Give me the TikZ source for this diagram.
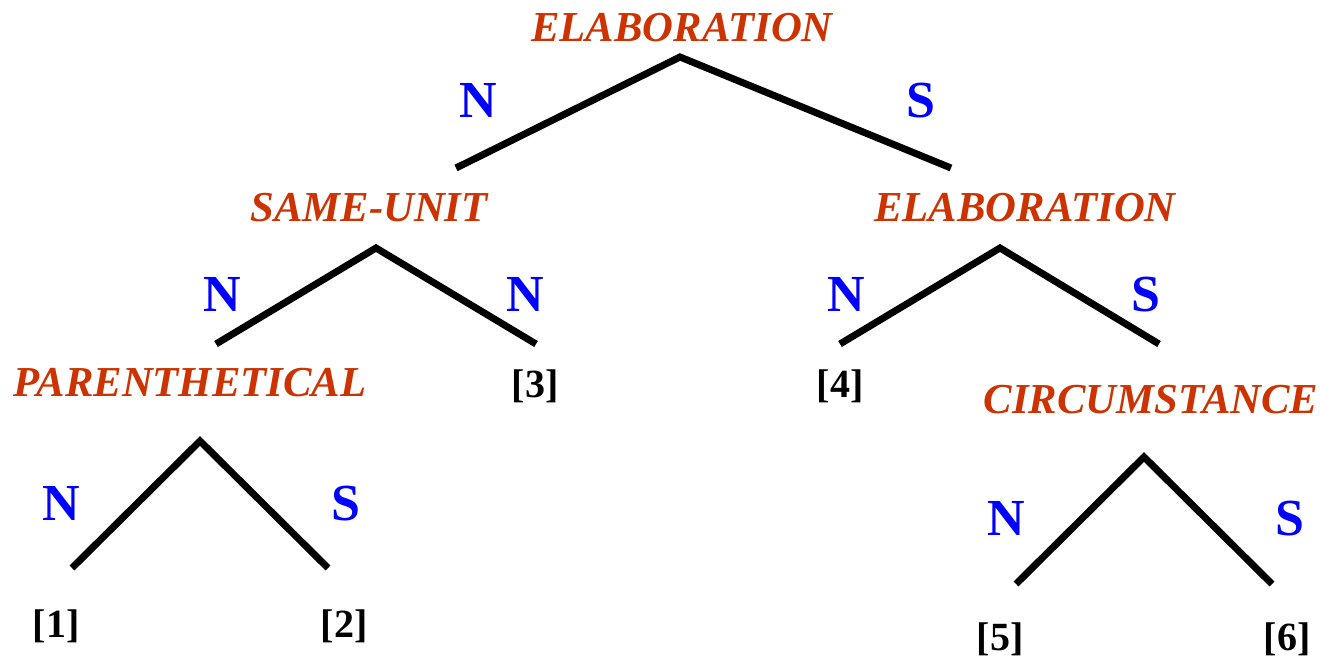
\documentclass[tikz,border=0pt]{standalone}
\usepackage{fontspec}
\setmainfont{Liberation Serif}
\definecolor{relred}{HTML}{CC3300}
\definecolor{nucblue}{HTML}{0000FF}
\begin{document}
\begin{tikzpicture}[x=1pt,y=-1pt,
  rel/.style={anchor=base,inner sep=0pt,text=relred,font=\fontsize{42.7}{50}\selectfont\bfseries\itshape},
  nuc/.style={anchor=base,inner sep=0pt,text=nucblue,font=\fontsize{52}{60}\selectfont\bfseries},
  leaf/.style={anchor=base,inner sep=0pt,text=black,font=\fontsize{40}{48}\selectfont\bfseries},
  branch/.style={line width=7pt,black}]
\useasboundingbox (0,0) rectangle (1320,658);
% relation labels
\node[rel] (r1) at (682,42) {ELABORATION};
\node[rel] (r2) at (369,221) {SAME-UNIT};
\node[rel] (r3) at (1025,221) {ELABORATION};
\node[rel] (r4) at (190,396) {PARENTHETICAL};
\node[rel] (r5) at (1151,413) {CIRCUMSTANCE};
% apex and end coordinates
\coordinate (a1) at (680,57);
\coordinate (e1l) at (456,168);
\coordinate (e1r) at (951,168);
\coordinate (a2) at (376,248);
\coordinate (e2l) at (216,344);
\coordinate (e2r) at (536,344);
\coordinate (a3) at (1000,248);
\coordinate (e3l) at (840,344);
\coordinate (e3r) at (1159,344);
\coordinate (a4) at (200,441);
\coordinate (e4l) at (72,568);
\coordinate (e4r) at (328,568);
\coordinate (a5) at (1144,457);
\coordinate (e5l) at (1016,584);
\coordinate (e5r) at (1272,584);
\draw[branch] (e1l) -- (a1) -- (e1r);
\draw[branch] (e2l) -- (a2) -- (e2r);
\draw[branch] (e3l) -- (a3) -- (e3r);
\draw[branch] (e4l) -- (a4) -- (e4r);
\draw[branch] (e5l) -- (a5) -- (e5r);
% nuclearity labels
\node[nuc] (n1) at (478,118) {N};
\node[nuc] (s1) at (921,118) {S};
\node[nuc] (n2) at (222,311) {N};
\node[nuc] (n3) at (525,311) {N};
\node[nuc] (n4) at (846,311) {N};
\node[nuc] (s4) at (1146,311) {S};
\node[nuc] (n5) at (61,520) {N};
\node[nuc] (s5) at (346,520) {S};
\node[nuc] (n6) at (1006,535) {N};
\node[nuc] (s6) at (1290,535) {S};
% leaves
\node[leaf] (l3) at (535,397) {[3]};
\node[leaf] (l4) at (840,397) {[4]};
\node[leaf] (l1) at (56,637) {[1]};
\node[leaf] (l2) at (344,637) {[2]};
\node[leaf] (l5) at (1000,650) {[5]};
\node[leaf] (l6) at (1287,650) {[6]};
\end{tikzpicture}
\end{document}
